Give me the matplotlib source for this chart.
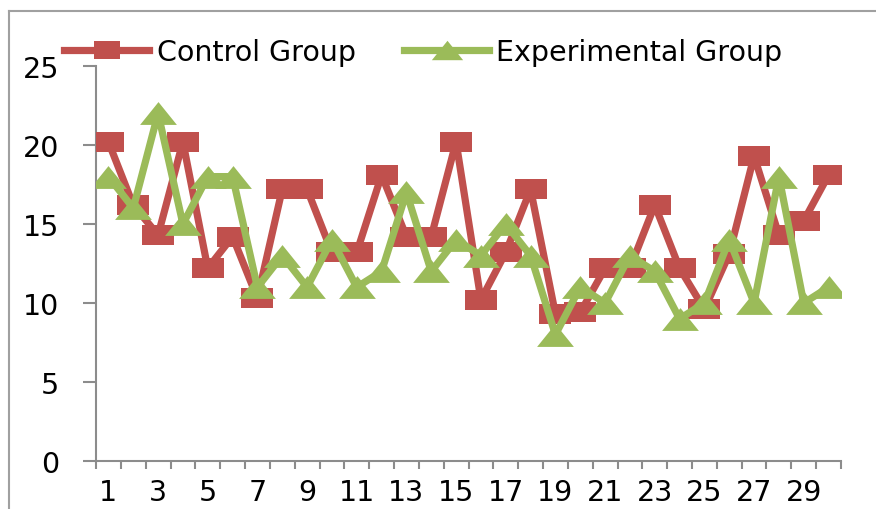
import numpy as np
import matplotlib
matplotlib.use("Agg")
import matplotlib.pyplot as plt
from matplotlib.path import Path
from matplotlib.lines import Line2D

categories = [str(i) for i in range(1, 31)]
control = [20.2, 16.2, 14.3, 20.2, 12.2, 14.2, 10.3, 17.2, 17.2, 13.2,
           13.2, 18.1, 14.2, 14.2, 20.2, 10.2, 13.2, 17.2, 9.3, 9.4,
           12.2, 12.2, 16.2, 12.2, 9.6, 13.1, 19.3, 14.3, 15.2, 18.1]
experimental = [18, 16, 22, 15, 18, 18, 11, 13, 11, 14,
                11, 12, 17, 12, 14, 13, 15, 13, 8, 11,
                10, 13, 12, 9, 10, 14, 10, 18, 10, 11]
y_ticks = [0, 5, 10, 15, 20, 25]

RED = "#C0504D"
GREEN = "#9BBB59"
GRAY = "#8C8C8C"

plt.rcParams['font.family'] = ['DejaVu Sans']

W, H = 876, 510
fig = plt.figure(figsize=(W / 100, H / 100), dpi=100)
ax = fig.add_axes([96 / W, 48 / H, 745 / W, 395 / H])

sq = Path([(-1, -0.645), (1, -0.645), (1, 0.645), (-1, 0.645), (-1, -0.645)],
          [Path.MOVETO, Path.LINETO, Path.LINETO, Path.LINETO, Path.CLOSEPOLY])
tri = Path([(-1, -0.62), (1, -0.62), (0, 0.62), (-1, -0.62)],
           [Path.MOVETO, Path.LINETO, Path.LINETO, Path.CLOSEPOLY])

x = np.arange(len(categories))
ax.plot(x, control, color=RED, lw=5.2, marker=sq, markersize=22.5,
        markeredgewidth=0, label="Control Group", zorder=3)
ax.plot(x, experimental, color=GREEN, lw=5.2, marker=tri, markersize=26.5,
        markeredgewidth=0, label="Experimental Group", zorder=4)

ax.set_xlim(-0.5, len(categories) - 0.5)
ax.set_ylim(0, 25)

ax.set_yticks(y_ticks)
ax.set_yticklabels([str(v) for v in y_ticks])
ax.set_xticks(np.arange(-0.5, len(categories), 1))
ax.set_xticklabels([])
ax.set_xticks(x[::2], minor=True)
ax.set_xticklabels(categories[::2], minor=True)

FS = 20.5
ax.tick_params(axis='y', direction='out', length=9.4, width=1.5, color=GRAY,
               pad=17, labelsize=FS)
ax.tick_params(axis='x', which='major', direction='out', length=6, width=1.5,
               color=GRAY)
ax.tick_params(axis='x', which='minor', length=0, pad=12.5, labelsize=FS)

for s in ['top', 'right']:
    ax.spines[s].set_visible(False)
for s in ['left', 'bottom']:
    ax.spines[s].set_color(GRAY)
    ax.spines[s].set_linewidth(1.5)

fig.legend(loc='center left', bbox_to_anchor=(64 / W, 1 - 53 / H), ncol=2,
           frameon=False, fontsize=FS, handlelength=3.0, handletextpad=0.25,
           columnspacing=1.7, borderpad=0, borderaxespad=0, markerscale=0.85)

# outer chart frame
fig.add_artist(Line2D([9 / W, 1], [1 - 12 / H, 1 - 12 / H], color="#A0A0A0",
                      lw=1.5, transform=fig.transFigure))
fig.add_artist(Line2D([9 / W, 9 / W], [0, 1 - 12 / H], color="#A0A0A0",
                      lw=1.5, transform=fig.transFigure))

fig.savefig("out.png", dpi=100)
